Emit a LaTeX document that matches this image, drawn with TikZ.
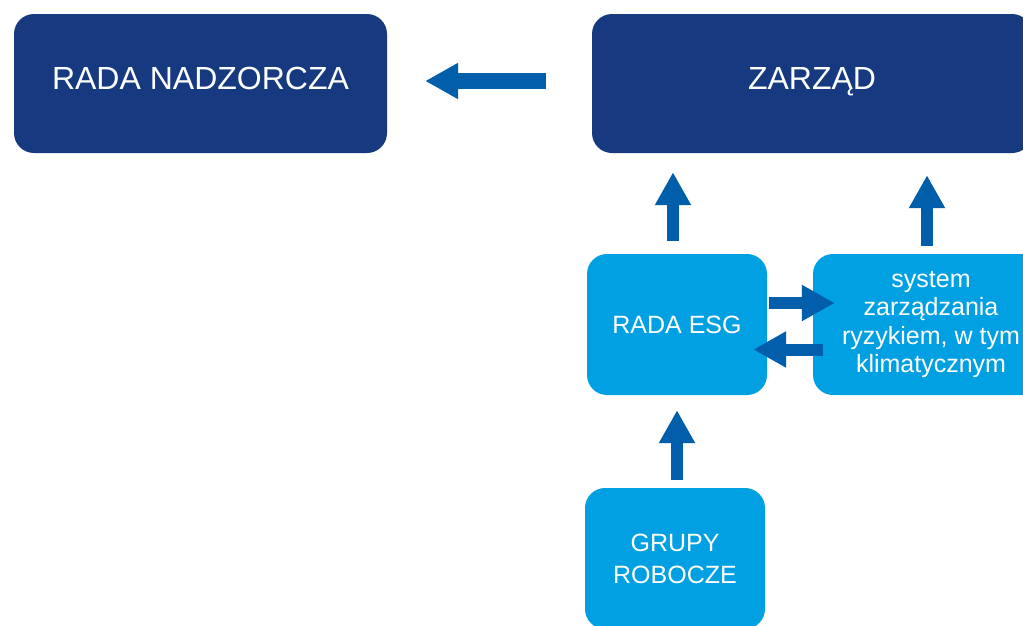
\documentclass[tikz,border=0pt]{standalone}
\usepackage{fontspec}
\setmainfont{Liberation Sans}
\usetikzlibrary{arrows.meta,calc}
\definecolor{navy}{RGB}{22,57,128}
\definecolor{lightblue}{RGB}{0,160,227}
\definecolor{arrowblue}{RGB}{0,94,170}
\tikzset{
  darkbox/.style={fill=navy, text=white, rounded corners=20pt, minimum height=139pt,
    font=\fontsize{32}{38}\selectfont, text height=23pt, text depth=11pt, inner sep=0pt},
  lightbox/.style={fill=lightblue, text=white, rounded corners=20pt, minimum height=141pt,
    minimum width=180pt, inner sep=0pt, align=center},
  blk/.style={draw=arrowblue, line width=#1, -{Triangle[width=34pt,length=33pt]}},
  blk/.default=12pt
}
\begin{document}
\begin{tikzpicture}[x=1pt,y=-1pt]
\useasboundingbox (0,0) rectangle (1023,625);
\clip (0,0) rectangle (1023,625);
\node[darkbox, minimum width=373pt] (radan) at (200.5,83.5) {RADA NADZORCZA};
\node[darkbox, minimum width=440pt] (zarzad) at (812,83.5) {ZARZĄD};
\node[lightbox, font=\fontsize{25}{30}\selectfont] (esg) at (677,324.5) {RADA ESG};
\node[lightbox, minimum width=236pt, font=\fontsize{25}{28.5}\selectfont] (sys) at (931,324.5) {system\\zarządzania\\ryzykiem, w tym\\klimatycznym};
\node[lightbox, font=\fontsize{25}{32}\selectfont] (grupy) at (675,558.5) {GRUPY\\ROBOCZE};
% arrows
\draw[blk=16pt, shorten <=46pt, shorten >=38pt] ([yshift=2.5pt]zarzad.west) -- ([yshift=2.5pt]zarzad.west -| radan.east);
\draw[blk, shorten <=13pt, shorten >=19pt] ([xshift=-4pt]esg.north) -- ([xshift=-4pt]esg.north |- zarzad.south);
\draw[blk, shorten <=8pt, shorten >=22pt] ([xshift=-4pt]sys.north) -- ([xshift=-4pt]sys.north |- zarzad.south);
\draw[blk, shorten <=2pt, shorten >=-22pt] ([yshift=21.5pt]esg.east) -- ([yshift=21.5pt]esg.east -| sys.west);
\draw[blk, shorten <=-10pt, shorten >=-14pt] ([yshift=-25pt]sys.west) -- ([yshift=-25pt]sys.west -| esg.east);
\draw[blk, shorten <=8pt, shorten >=15pt] ([xshift=2pt]grupy.north) -- ([xshift=2pt]grupy.north |- esg.south);
\end{tikzpicture}
\end{document}
